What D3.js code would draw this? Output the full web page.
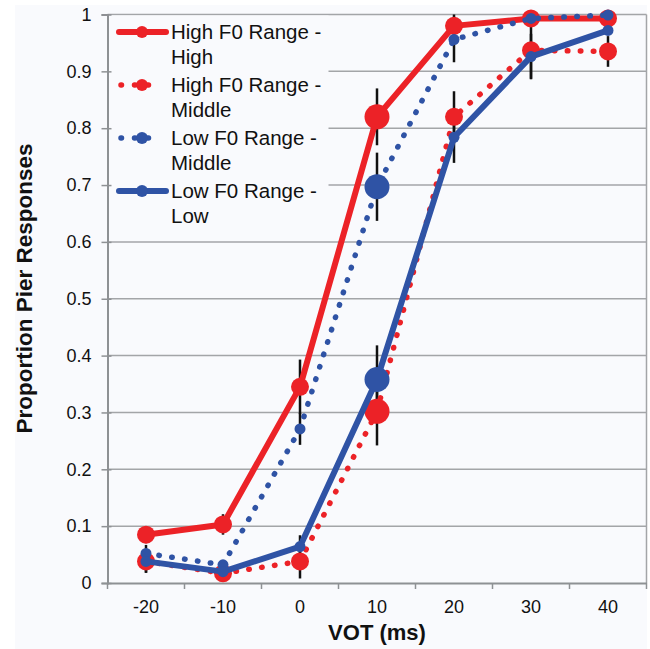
<!DOCTYPE html>
<html>
<head>
<meta charset="utf-8">
<script src="https://cdn.jsdelivr.net/npm/d3@7"></script>
<style>
  html, body { margin: 0; padding: 0; background: #ffffff; }
  svg { display: block; font-family: "Liberation Sans", Arial, sans-serif; }
</style>
</head>
<body>
<div id="chart"></div>
<script>
'use strict';

// data
const vot = [-20, -10, 0, 10, 20, 30, 40];
const yTicks = [0, 0.1, 0.2, 0.3, 0.4, 0.5, 0.6, 0.7, 0.8, 0.9, 1];

const highHigh   = [0.085, 0.103, 0.345, 0.820, 0.980, 0.993, 0.993];
const highMiddle = [0.038, 0.017, 0.038, 0.302, 0.820, 0.937, 0.935];
const lowMiddle  = [0.052, 0.032, 0.271, 0.697, 0.956, 0.993, 0.999];
const lowLow     = [0.038, 0.020, 0.064, 0.358, 0.784, 0.926, 0.972];

// error bar half widths
const highHighErr   = [0.015, 0.018, 0.048, 0.050, 0.020, 0, 0];
const highMiddleErr = [0.020, 0, 0.030, 0.060, 0.045, 0.050, 0.027];
const lowMiddleErr  = [0.015, 0, 0.028, 0.060, 0.040, 0, 0];
const lowLowErr     = [0.020, 0, 0.020, 0.060, 0.045, 0.040, 0.005];

const seriesNames = ["High F0 Range - High", "High F0 Range - Middle", "Low F0 Range - Middle", "Low F0 Range - Low"];

const red = "#ec2227", blue = "#2f53a5";

let series = [
    { name: seriesNames[0], values: highHigh,   err: highHighErr,   color: red,  dotted: false, r: 9 },
    { name: seriesNames[1], values: highMiddle, err: highMiddleErr, color: red,  dotted: true,  r: 9 },
    { name: seriesNames[2], values: lowMiddle,  err: lowMiddleErr,  color: blue, dotted: true,  r: 5.5 },
    { name: seriesNames[3], values: lowLow,     err: lowLowErr,     color: blue, dotted: false, r: 5.5 }
];

const W = 650, H = 649;
let margin = { top: 14.5, right: 3.5, bottom: 66, left: 107.5 };

let svg = d3.select("#chart").append("svg")
    .attr("width", W)
    .attr("height", H);

svg.append("rect")
    .attr("x", 15).attr("y", 5)
    .attr("width", 632).attr("height", H - 5)
    .attr("fill", "#f9fafd");

var x = d3.scaleBand().domain(vot).range([margin.left, W - margin.right]).padding(0);
var y = d3.scaleLinear().domain([0, 1]).range([H - margin.bottom, margin.top]);
let cx = v => x(v) + x.bandwidth() / 2;

// gridlines
svg.append("g").selectAll("line")
    .data(yTicks.filter(d => d > 0))
    .enter().append("line")
    .attr("x1", margin.left).attr("x2", W - margin.right)
    .attr("y1", d => y(d)).attr("y2", d => y(d))
    .attr("stroke", "#a3a5a8")
    .attr("stroke-width", 1.5);

// right border
svg.append("line")
    .attr("x1", W - margin.right).attr("x2", W - margin.right)
    .attr("y1", y(1)).attr("y2", y(0))
    .attr("stroke", "#a3a5a8").attr("stroke-width", 1.5);

// legend box hides the grid behind it
svg.append("rect")
    .attr("x", margin.left + 1).attr("y", y(1) + 1)
    .attr("width", 220).attr("height", 210)
    .attr("fill", "#f9fafd");

// y axis
let yAxis = svg.append("g")
    .attr("transform", "translate(" + margin.left + ",0)")
    .call(d3.axisLeft(y).tickValues(yTicks).tickFormat(d3.format("~g")).tickSize(6).tickPadding(10));
yAxis.select(".domain").attr("stroke", "#8e9194").attr("stroke-width", 2);
yAxis.selectAll(".tick line").attr("stroke", "#8e9194").attr("stroke-width", 1.5).attr("x2", -6).attr("x1", 4);
yAxis.selectAll(".tick text")
    .attr("font-size", "18px")
    .attr("fill", "#111")
    .attr("font-family", "Liberation Sans, Arial, sans-serif");

// x axis
let xAxis = svg.append("g")
    .attr("transform", "translate(0," + y(0) + ")")
    .call(d3.axisBottom(x).tickSize(0).tickPadding(17));
xAxis.select(".domain").attr("stroke", "#8e9194").attr("stroke-width", 2);
xAxis.selectAll(".tick text")
    .attr("font-size", "18px")
    .attr("fill", "#111")
    .attr("font-family", "Liberation Sans, Arial, sans-serif");
xAxis.selectAll(".edge")
    .data(vot.map(v => x(v)).concat([x.range()[1]]))
    .enter().append("line")
    .attr("class", "edge")
    .attr("x1", d => d).attr("x2", d => d)
    .attr("y1", 0).attr("y2", 6)
    .attr("stroke", "#8e9194").attr("stroke-width", 1.5);

// error bars
series.forEach(s => {
    svg.append("g").selectAll("line")
        .data(vot.map((v, i) => ({ v: v, val: s.values[i], e: s.err[i] })).filter(d => d.e > 0))
        .enter().append("line")
        .attr("x1", d => cx(d.v)).attr("x2", d => cx(d.v))
        .attr("y1", d => y(d.val + d.e)).attr("y2", d => y(d.val - d.e))
        .attr("stroke", "#111")
        .attr("stroke-width", 2.5);
});

let line = d3.line()
    .x(d => cx(d.v))
    .y(d => y(d.val));

// lines and markers
series.forEach(s => {
    let pts = vot.map((v, i) => ({ v: v, val: s.values[i] }));
    let path = svg.append("path")
        .datum(pts)
        .attr("d", line)
        .attr("fill", "none")
        .attr("stroke", s.color)
        .attr("stroke-linejoin", "round");
    if (s.dotted) {
        path.attr("stroke-width", 5.5)
            .attr("stroke-dasharray", "0.5 12.5")
            .attr("stroke-linecap", "round");
    } else {
        path.attr("stroke-width", 6);
    }
    svg.append("g").selectAll("circle")
        .data(pts)
        .enter().append("circle")
        .attr("cx", d => cx(d.v))
        .attr("cy", d => y(d.val))
        .attr("r", d => d.v === 10 ? 12.5 : s.r)
        .attr("fill", s.color);
});

// legend
let legend = svg.append("g");
series.forEach((s, i) => {
    let top = 39 + i * 53;
    let g = legend.append("g");
    let l = g.append("line")
        .attr("x1", 119).attr("x2", 166)
        .attr("y1", top - 7).attr("y2", top - 7)
        .attr("stroke", s.color);
    if (s.dotted) {
        l.attr("stroke-width", 5.5).attr("stroke-dasharray", "0.5 13").attr("stroke-linecap", "round")
         .attr("x1", 121).attr("x2", 161);
    } else {
        l.attr("stroke-width", 6).attr("stroke-linecap", "round");
    }
    g.append("circle")
        .attr("cx", 142).attr("cy", top - 7)
        .attr("r", 6)
        .attr("fill", s.color);
    let parts = s.name.split(" - ");
    let t = g.append("text")
        .attr("x", 171).attr("y", top)
        .attr("font-size", "20.5px")
        .attr("fill", "#111");
    t.append("tspan").attr("x", 171).attr("y", top).text(parts[0] + " -");
    t.append("tspan").attr("x", 171).attr("y", top + 24.5).text(parts[1]);
});

// axis titles
svg.append("text")
    .attr("x", (margin.left + W - margin.right) / 2)
    .attr("y", 640)
    .attr("text-anchor", "middle")
    .attr("font-size", "22px")
    .attr("font-weight", "bold")
    .attr("fill", "#111")
    .text("VOT (ms)");

svg.append("text")
    .attr("transform", "translate(32," + 288.5 + ") rotate(-90)")
    .attr("text-anchor", "middle")
    .attr("font-size", "22.5px")
    .attr("font-weight", "bold")
    .attr("fill", "#111")
    .text("Proportion Pier Responses");
</script>
</body>
</html>
